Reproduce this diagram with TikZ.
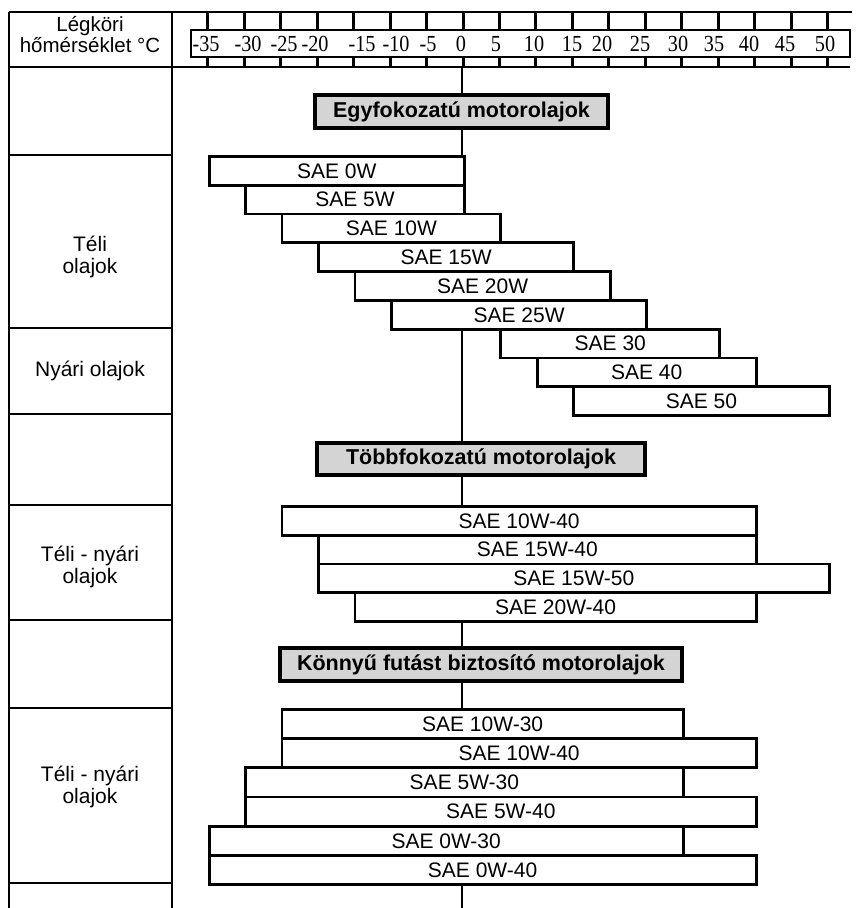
\documentclass[tikz,border=0pt]{standalone}
\usepackage{fontspec}
\setmainfont{Liberation Sans}
\newfontfamily\serifnum{Liberation Serif}[FakeStretch=0.88]
\begin{document}
\begin{tikzpicture}[x=1pt,y=-1pt,
  frame/.style={line width=2.6pt},
  barbox/.style={draw, fill=white, line width=2.8pt, anchor=north west,
    minimum height=28.8pt, inner sep=0pt, font=\fontsize{21}{23}\selectfont},
  headbox/.style={draw, fill=black!17, line width=3.2pt, inner sep=0pt,
    font=\bfseries\fontsize{21.5}{23}\selectfont},
  sidelabel/.style={align=center, inner sep=0pt, font=\fontsize{21}{22}\selectfont},
  tickmark/.style={line width=3pt},
  numlab/.style={font=\serifnum\fontsize{23}{24}\selectfont, inner sep=0pt}
]
\useasboundingbox (0,0) rectangle (856,908);

% frame of the table
\draw[frame] (9,12) -- (852,12);
\draw[frame] (9,12) -- (9,908);
\draw[frame] (172,12) -- (172,908);
\draw[frame] (9,67) -- (850,67);
\foreach \yy in {155,328,414,505,620,708,883}
  \draw[frame] (9,\yy) -- (172,\yy);

% temperature scale
\draw[line width=2pt] (191,30) rectangle (850,57);
\foreach \t in {-35,-30,...,50}{
  \draw[tickmark] ({463+7.294*\t},12) -- ({463+7.294*\t},30);
  \draw[tickmark] ({463+7.294*\t},57) -- ({463+7.294*\t},67);
}
\foreach \xx/\ll [count=\i] in {206/-35,248/-30,284/-25,315/-20,362/-15,396/-10,428/-5,461/0,496/5,534/10,572/15,602/20,640/25,678/30,714/35,749/40,785/45,825/50}
  \node[numlab] (n\i) at (\xx,44) {\ll};

\node[sidelabel, font=\fontsize{20.5}{21}\selectfont] (hdr) at (90,35) {Légköri\\hőmérséklet °C};

% zero axis
\coordinate (axtop) at (462,67);
\coordinate (axbot) at (462,908);
\draw[frame] (axtop) -- (axbot);

% side labels
\node[sidelabel] (s1) at (90,257) {Téli\\olajok};
\node[sidelabel] (s2) at (90,371) {Nyári olajok};
\node[sidelabel] (s3) at (90,567) {Téli - nyári\\olajok};
\node[sidelabel] (s4) at (90,787) {Téli - nyári\\olajok};

% headings
\node[headbox, minimum width=293pt, minimum height=33pt] (h1) at (461.5,111.5) {Egyfokozatú motorolajok};
\node[headbox, minimum width=328pt, minimum height=32pt] (h2) at (481,459) {Többfokozatú motorolajok};
\node[headbox, minimum width=402pt, minimum height=33pt] (h3) at (481,664.5) {Könnyű futást biztosító motorolajok};

% bars: \oilbar[opts]{name}{Tfrom}{Tto}{ytop}{text}
\newcommand\oilbar[6][]{%
  \node[barbox, minimum width={(#4-(#3))*7.294pt}, #1] (#2) at ({463+7.294*(#3)},#5) {#6};}

\oilbar{b1}{-35}{0}{155}{SAE 0W}
\oilbar{b2}{-30}{0}{183.8}{SAE 5W}
\oilbar{b3}{-25}{5}{212.6}{SAE 10W}
\oilbar{b4}{-20}{15}{241.4}{SAE 15W}
\oilbar{b5}{-15}{20}{270.2}{SAE 20W}
\oilbar{b6}{-10}{25}{299}{SAE 25W}
\oilbar{b7}{5}{35}{327.8}{SAE 30}
\oilbar{b8}{10}{40}{356.6}{SAE 40}
\oilbar{b9}{15}{50}{385.4}{SAE 50}

\oilbar{m1}{-25}{40}{505}{SAE 10W-40}
\oilbar{m2}{-20}{40}{533.8}{SAE 15W-40}
\oilbar{m3}{-20}{50}{562.6}{SAE 15W-50}
\oilbar{m4}{-15}{40}{591.4}{SAE 20W-40}

\oilbar[minimum height=29.2pt]{l1}{-25}{30}{708}{SAE 10W-30}
\oilbar[minimum height=29.2pt]{l2}{-25}{40}{737.2}{SAE 10W-40}
\oilbar[minimum height=29.2pt]{l3}{-30}{30}{766.4}{SAE 5W-30}
\oilbar[minimum height=29.2pt]{l4}{-30}{40}{795.6}{SAE 5W-40}
\oilbar[minimum height=29.2pt]{l5}{-35}{30}{824.8}{SAE 0W-30}
\oilbar[minimum height=29.2pt]{l6}{-35}{40}{854}{SAE 0W-40}
\end{tikzpicture}
\end{document}
